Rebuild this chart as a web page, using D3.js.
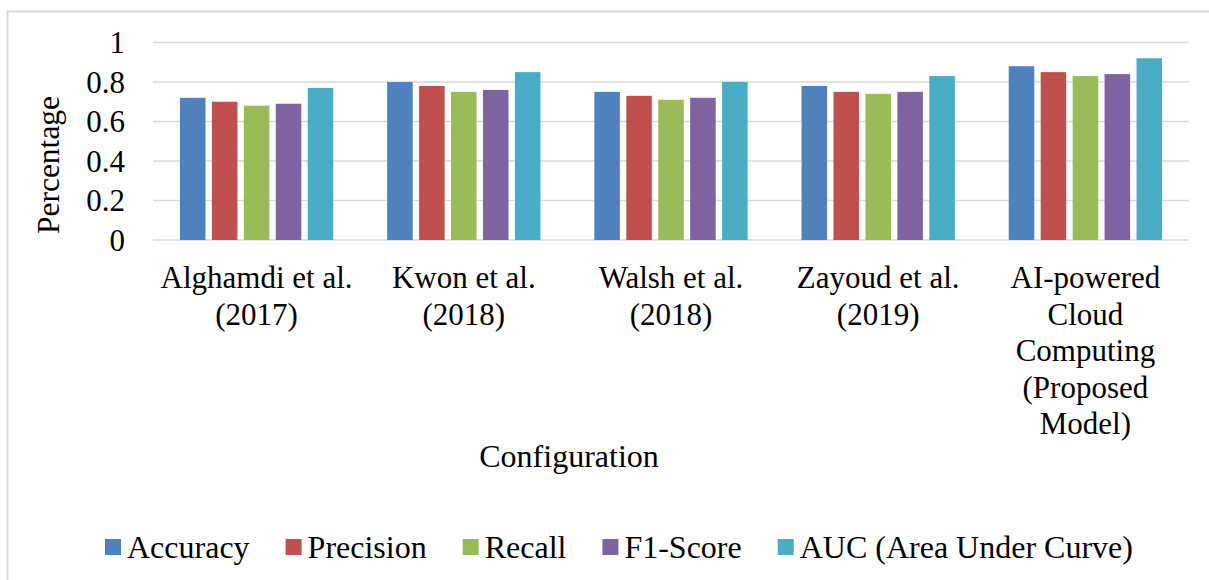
<!DOCTYPE html>
<html>
<head>
<meta charset="utf-8">
<script src="https://cdn.jsdelivr.net/npm/d3@7"></script>
<style>
  body { margin: 0; background: #fff; }
</style>
</head>
<body>
<svg width="1209" height="580"></svg>
<script>
var categories = [
  ["Alghamdi et al.", "(2017)"],
  ["Kwon et al.", "(2018)"],
  ["Walsh et al.", "(2018)"],
  ["Zayoud et al.", "(2019)"],
  ["AI-powered", "Cloud", "Computing", "(Proposed", "Model)"]
];
var seriesNames = ["Accuracy", "Precision", "Recall", "F1-Score", "AUC (Area Under Curve)"];
var accuracy  = [0.72, 0.80, 0.75, 0.78, 0.88];
var precision = [0.70, 0.78, 0.73, 0.75, 0.85];
var recall    = [0.68, 0.75, 0.71, 0.74, 0.83];
var f1score   = [0.69, 0.76, 0.72, 0.75, 0.84];
var auc       = [0.77, 0.85, 0.80, 0.83, 0.92];
var yTicks = [0, 0.2, 0.4, 0.6, 0.8, 1];
var yTickLabels = ["0", "0.2", "0.4", "0.6", "0.8", "1"];

var seriesValues = [accuracy, precision, recall, f1score, auc];
var colors = ["#4F81BD", "#C0504D", "#9BBB59", "#8064A2", "#4BACC6"];

var svg = d3.select("svg"),
    font = "'Liberation Serif'",
    fontSize = 31;

// outer frame (runs off the picture on the right and bottom)
svg.append("rect")
    .attr("x", 7.5).attr("y", 11.5)
    .attr("width", 1400).attr("height", 800)
    .attr("fill", "none")
    .attr("stroke", "#d9d9d9")
    .attr("stroke-width", 2);

var plot = {left: 153, right: 1189, top: 42.5, bottom: 240};

var x0 = d3.scaleBand()
    .domain(d3.range(categories.length))
    .range([plot.left, plot.right])
    .paddingInner(0.26)
    .paddingOuter(0.13);

var x1 = d3.scaleBand()
    .domain(d3.range(seriesNames.length))
    .range([0, x0.bandwidth()])
    .paddingInner(0.2);

var y = d3.scaleLinear()
    .domain([0, 1])
    .range([plot.bottom, plot.top]);

// gridlines
svg.append("g")
  .selectAll("line")
  .data(yTicks)
  .enter().append("line")
    .attr("x1", plot.left)
    .attr("x2", plot.right)
    .attr("y1", function(d) { return y(d); })
    .attr("y2", function(d) { return y(d); })
    .attr("stroke", "#d9d9d9")
    .attr("stroke-width", 1.5);

// tick labels
svg.append("g")
  .selectAll("text")
  .data(yTicks)
  .enter().append("text")
    .attr("x", 125)
    .attr("y", function(d) { return y(d); })
    .attr("dy", "0.35em")
    .attr("text-anchor", "end")
    .style("font-family", font)
    .style("font-size", fontSize + "px")
    .text(function(d, i) { return yTickLabels[i]; });

// bars
var groups = svg.append("g")
  .selectAll("g")
  .data(categories)
  .enter().append("g")
    .attr("transform", function(d, i) { return "translate(" + x0(i) + ",0)"; });

groups.selectAll("rect")
    .data(function(d, i) {
      return seriesValues.map(function(vals, s) { return {s: s, v: vals[i]}; });
    })
  .enter().append("rect")
    .attr("x", function(d) { return x1(d.s); })
    .attr("y", function(d) { return y(d.v); })
    .attr("width", x1.bandwidth())
    .attr("height", function(d) { return y(0) - y(d.v); })
    .attr("fill", function(d) { return colors[d.s]; });

// category labels
var lineHeight = 36.5;
svg.append("g")
  .selectAll("text")
  .data(categories)
  .enter().append("text")
    .attr("text-anchor", "middle")
    .style("font-family", font)
    .style("font-size", fontSize + "px")
    .each(function(lines, i) {
      var t = d3.select(this);
      var cx = x0(i) + x0.bandwidth() / 2;
      lines.forEach(function(line, k) {
        t.append("tspan")
          .attr("x", cx)
          .attr("y", 288 + k * lineHeight)
          .text(line);
      });
    });

// axis titles
svg.append("text")
    .attr("x", 569)
    .attr("y", 467)
    .attr("text-anchor", "middle")
    .style("font-family", font)
    .style("font-size", "32px")
    .text("Configuration");

svg.append("text")
    .attr("transform", "translate(59,165) rotate(-90)")
    .attr("text-anchor", "middle")
    .style("font-family", font)
    .style("font-size", "31.5px")
    .text("Percentage");

// legend
var legend = svg.append("g");
var lx = 105;
seriesNames.forEach(function(name, i) {
  legend.append("rect")
    .attr("x", lx).attr("y", 539)
    .attr("width", 16).attr("height", 16)
    .attr("fill", colors[i]);
  var t = legend.append("text")
    .attr("x", lx + 22)
    .attr("y", 558)
    .style("font-family", font)
    .style("font-size", "32px")
    .text(name);
  lx += 22 + t.node().getComputedTextLength() + 36;
});
</script>
</body>
</html>
